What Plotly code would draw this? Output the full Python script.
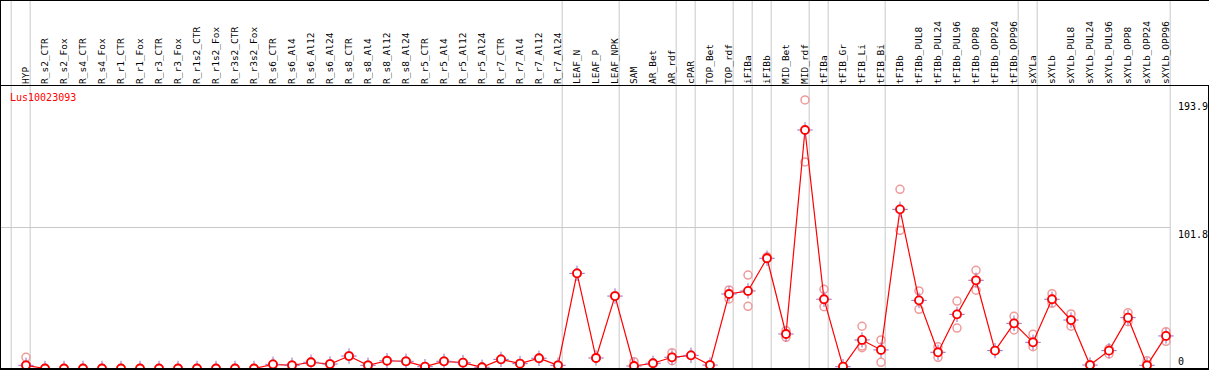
import plotly.graph_objects as go

cats = ["HYP", "R_s2_CTR", "R_s2_Fox", "R_s4_CTR", "R_s4_Fox", "R_r1_CTR", "R_r1_Fox",
        "R_r3_CTR", "R_r3_Fox", "R_r1s2_CTR", "R_r1s2_Fox", "R_r3s2_CTR", "R_r3s2_Fox",
        "R_s6_CTR", "R_s6_Al4", "R_s6_Al12", "R_s6_Al24", "R_s8_CTR", "R_s8_Al4", "R_s8_Al12",
        "R_s8_Al24", "R_r5_CTR", "R_r5_Al4", "R_r5_Al12", "R_r5_Al24", "R_r7_CTR", "R_r7_Al4",
        "R_r7_Al12", "R_r7_Al24", "LEAF_N", "LEAF_P", "LEAF_NPK", "SAM", "AR_Bet", "AR_rdf",
        "cPAR", "TOP_Bet", "TOP_rdf", "iFIBa", "iFIBb", "MID_Bet", "MID_rdf", "tFIBa",
        "tFIB_Gr", "tFIB_Li", "tFIB_Bi", "tFIBb", "tFIBb_PUL8", "tFIBb_PUL24", "tFIBb_PUL96",
        "tFIBb_OPP8", "tFIBb_OPP24", "tFIBb_OPP96", "sXYLa", "sXYLb", "sXYLb_PUL8",
        "sXYLb_PUL24", "sXYLb_PUL96", "sXYLb_OPP8", "sXYLb_OPP24", "sXYLb_OPP96"]

# group sizes (separators drawn after each group)
group_sizes = [1, 28, 3, 3, 1, 2, 1, 1, 2, 1, 3, 7, 1, 7]

means = [2.3, 0, 0, 0, 0, 0, 0, 0, 0, 0, 0, 0, 0,
         3.0, 2.3, 4.5, 3.2, 9.0, 2.3, 5.6,
         5.2, 1.3, 5.2, 4.2, 0.9, 6.6, 3.5,
         7.4, 2.3, 68.7, 7.6, 52.3, 1.8, 3.8, 8.1,
         9.5, 2.5, 53.8, 56.0, 79.6, 24.9, 172.2, 50.0,
         1.3, 20.6, 13.4, 114.9, 49.2, 11.7, 39.1,
         63.7, 12.9, 32.6, 18.9, 50.0, 35.0,
         2.5, 12.9, 36.7, 2.3, 23.5]

rep_hi = [8.1, 0, 0, 0, 0, 0, 0, 0, 0, 0, 0, 0, 0,
          3.0, 2.3, 4.5, 3.2, 9.0, 2.3, 5.6,
          5.2, 1.3, 5.2, 4.2, 0.9, 6.6, 3.5,
          7.4, 2.3, 68.7, 7.6, 52.3, 4.9, 3.8, 11.4,
          9.5, 2.5, 56.7, 67.5, 80.7, 27.3, 193.9, 57.2,
          1.3, 30.5, 20.6, 129.4, 56.0, 15.7, 48.7,
          70.9, 12.9, 37.7, 24.7, 54.0, 39.4,
          2.5, 14.3, 40.3, 5.6, 26.6]

rep_lo = [2.3, 0, 0, 0, 0, 0, 0, 0, 0, 0, 0, 0, 0,
          3.0, 2.3, 4.5, 3.2, 9.0, 2.3, 5.6,
          5.2, 1.3, 5.2, 4.2, 0.9, 6.6, 3.5,
          7.4, 2.3, 68.7, 7.6, 52.3, 1.8, 3.8, 5.6,
          9.5, 2.5, 50.2, 44.9, 79.6, 22.5, 149.1, 44.6,
          1.3, 15.0, 4.5, 99.8, 42.7, 8.1, 29.2,
          56.5, 12.9, 27.8, 15.7, 47.1, 30.5,
          2.5, 10.5, 33.8, 2.3, 19.6]

rep_mid = list(means)
rep_mid[cats.index("tFIB_Li")] = 16.2

gene = "Lus10023093"
y_labels = [193.9, 101.8, 0]

W, H = 1209, 370
T, B = 85, 1
PH = H - T - B
PX0 = 26.0   # pixel of first category
STEP = 19.0  # pixel step per category
x_range = [-PX0 / STEP, (W - PX0) / STEP]
y_range = [-0.36, 204.7]

RED = "#FF0000"
PINK = "#F09A9A"
GRID = "#C8C8C8"
FONT = "DejaVu Sans Mono"

fig = go.Figure()

for reps in (rep_hi, rep_lo, rep_mid):
    fig.add_trace(go.Scatter(x=cats, y=reps, mode="markers",
                             marker=dict(symbol="circle-open", size=8, color=PINK,
                                         line=dict(width=1.5, color=PINK)),
                             hoverinfo="skip"))

fig.add_trace(go.Scatter(x=cats, y=means, mode="lines",
                         line=dict(color=RED, width=1.2), hoverinfo="skip"))
fig.add_trace(go.Scatter(x=cats, y=means, mode="markers",
                         marker=dict(symbol="cross-thin-open", size=11,
                                     line=dict(width=1, color=RED)),
                         hoverinfo="skip"))
fig.add_trace(go.Scatter(x=cats, y=means, mode="markers",
                         marker=dict(symbol="circle", size=8, color="white",
                                     line=dict(width=1.8, color=RED)),
                         hoverinfo="skip"))

shapes = []
top_paper = 1 + T / PH
# group separators
idx = -1
sep_positions = [-1 + 0.22]
for g in group_sizes:
    idx += g
    sep_positions.append(idx + 0.22)
for p in sep_positions:
    shapes.append(dict(type="line", xref="x", yref="paper", x0=p, x1=p, y0=0, y1=top_paper,
                       line=dict(color=GRID, width=1), layer="below"))
# horizontal grid at middle value
shapes.append(dict(type="line", xref="x", yref="y", x0=x_range[0], x1=sep_positions[-1],
                   y0=y_labels[1], y1=y_labels[1], line=dict(color=GRID, width=1), layer="below"))
# black frame lines
blk = dict(color="black", width=2)
shapes.append(dict(type="line", xref="paper", yref="paper", x0=0, x1=1, y0=top_paper, y1=top_paper, line=blk))
shapes.append(dict(type="line", xref="paper", yref="paper", x0=0, x1=1, y0=1 - 0.5 / PH, y1=1 - 0.5 / PH,
                   line=dict(color="black", width=1.2)))
shapes.append(dict(type="line", xref="paper", yref="paper", x0=0, x1=1, y0=0, y1=0, line=blk))
shapes.append(dict(type="line", xref="paper", yref="paper", x0=0, x1=0, y0=0, y1=top_paper, line=blk))
shapes.append(dict(type="line", xref="paper", yref="paper", x0=1, x1=1, y0=0, y1=1, line=blk))

annotations = []
label_x = 1177 / W
for v in y_labels[:2]:
    annotations.append(dict(x=label_x, xref="paper", y=v, yref="y", text=str(v),
                            showarrow=False, xanchor="left", yanchor="top",
                            font=dict(family=FONT, size=10, color="black"), borderpad=0))
annotations.append(dict(x=label_x, xref="paper", y=4.7, yref="y", text=str(y_labels[2]),
                        showarrow=False, xanchor="left", yanchor="middle",
                        font=dict(family=FONT, size=10, color="black"), borderpad=0))
annotations.append(dict(x=9 / W, xref="paper", y=196, yref="y", text=gene,
                        showarrow=False, xanchor="left", yanchor="middle",
                        font=dict(family=FONT, size=10, color=RED), borderpad=0))

fig.update_layout(
    template="none",
    width=W, height=H,
    margin=dict(l=0, r=0, t=T, b=B, pad=0),
    plot_bgcolor="white", paper_bgcolor="white",
    showlegend=False,
    shapes=shapes, annotations=annotations,
    xaxis=dict(type="category", categoryorder="array", categoryarray=cats,
               range=x_range, side="top", tickangle=-90, tickmode="array",
               tickvals=cats, ticktext=cats, ticks="", showgrid=False, zeroline=False,
               showline=False, automargin=False,
               tickfont=dict(family=FONT, size=9.5, color="black")),
    yaxis=dict(range=y_range, showticklabels=False, showgrid=False, zeroline=False,
               showline=False, automargin=False, ticks=""),
)

fig.write_html("out.html", config={"displayModeBar": False},
               post_script="document.body.style.margin='0';document.body.style.overflow='hidden';")
